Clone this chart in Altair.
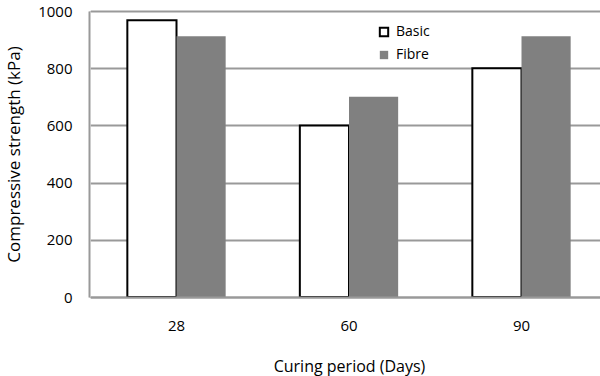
import altair as alt
import pandas as pd

periods = ["28", "60", "90"]
series = ["Basic", "Fibre"]
basic = [968, 600, 800]
fibre = [912, 700, 912]
y_ticks = [0, 200, 400, 600, 800, 1000]

rows = []
for s, vals in zip(series, [basic, fibre]):
    for p, v in zip(periods, vals):
        rows.append({"period": p, "series": s, "value": v})
df = pd.DataFrame(rows)

FONT = "Open Sans"
GRID = "#999999"

leg = alt.Legend(
    title=None, orient="none", legendX=288, legendY=14, padding=0,
    symbolType="square", symbolSize=70, symbolStrokeWidth=2,
    labelFont=FONT, labelFontSize=14, labelColor="#000", labelOffset=5,
    rowPadding=5,
)

chart = alt.Chart(df).mark_bar(strokeWidth=2).encode(
    x=alt.X("period:N", sort=periods,
            scale=alt.Scale(paddingInner=0.43, paddingOuter=0.215, range=[1.25, 518.75]),
            axis=alt.Axis(title="Curing period (Days)", labelAngle=0, ticks=False, zindex=1,
                          domainColor=GRID, domainWidth=2, labelPadding=21, titlePadding=25,
                          grid=False, labelFont=FONT, labelFontSize=15, labelColor="#000",
                          titleFont=FONT, titleFontSize=16, titleFontWeight="normal", titleColor="#000")),
    xOffset=alt.XOffset("series:N", sort=series, scale=alt.Scale(paddingInner=0, paddingOuter=0)),
    y=alt.Y("value:Q", scale=alt.Scale(domain=[0, 1000]),
            axis=alt.Axis(values=y_ticks, format="d", title="Compressive strength (kPa)", ticks=False,
                          domainColor=GRID, domainWidth=2, gridColor=GRID, gridWidth=2,
                          labelPadding=17, titlePadding=14,
                          labelFont=FONT, labelFontSize=15, labelColor="#000",
                          titleFont=FONT, titleFontSize=17, titleFontWeight="normal", titleColor="#000")),
    fill=alt.Fill("series:N", scale=alt.Scale(domain=series, range=["#ffffff", "#808080"]), legend=leg),
    stroke=alt.Stroke("series:N", scale=alt.Scale(domain=series, range=["#000000", "transparent"]), legend=leg),
    order=alt.Order("series:N"),
).properties(
    width=511, height=286,
    autosize=alt.AutoSizeParams(type="none"),
    padding={"left": 89, "top": 11, "right": 0, "bottom": 79},
).configure_view(stroke=None).configure(background="white")

chart.save("out.html", embed_options={"renderer": "svg", "actions": False})
